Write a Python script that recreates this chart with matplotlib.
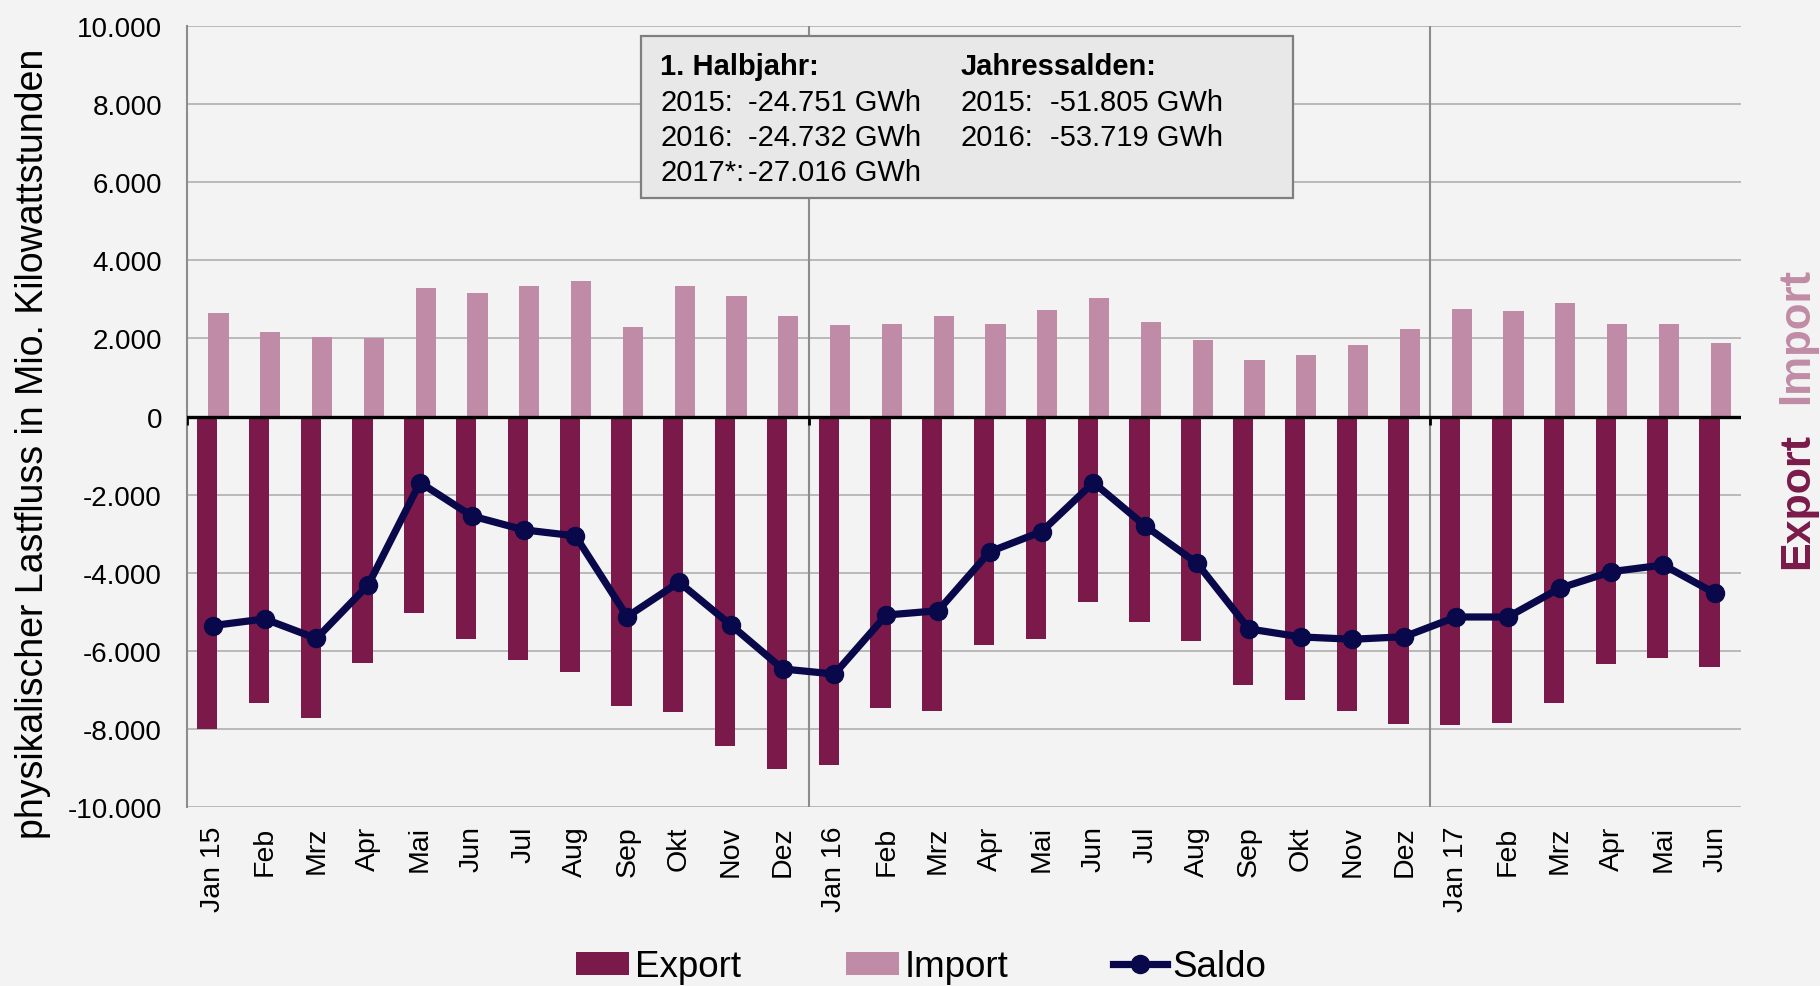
import matplotlib
matplotlib.use("Agg")
import matplotlib.pyplot as plt
from matplotlib.patches import Patch, Rectangle
from matplotlib.lines import Line2D
import numpy as np

plt.rcParams['font.family'] = ['Liberation Sans', 'DejaVu Sans']

months = ["Jan 15", "Feb", "Mrz", "Apr", "Mai", "Jun", "Jul", "Aug", "Sep", "Okt", "Nov", "Dez",
          "Jan 16", "Feb", "Mrz", "Apr", "Mai", "Jun", "Jul", "Aug", "Sep", "Okt", "Nov", "Dez",
          "Jan 17", "Feb", "Mrz", "Apr", "Mai", "Jun"]

export_vals = [-8000, -7340, -7720, -6320, -5020, -5690, -6240, -6530, -7420, -7570, -8420, -9010,
               -8920, -7450, -7530, -5840, -5690, -4740, -5250, -5740, -6880, -7250, -7530, -7870,
               -7900, -7840, -7320, -6340, -6170, -6410]

import_vals = [2660, 2165, 2040, 2020, 3290, 3155, 3340, 3470, 2295, 3340, 3095, 2575,
               2336, 2370, 2575, 2360, 2730, 3025, 2430, 1970, 1450, 1585, 1825, 2250,
               2745, 2700, 2905, 2355, 2360, 1875]

saldo_vals = [-5350, -5180, -5680, -4310, -1690, -2545, -2900, -3055, -5120, -4240, -5335, -6460,
              -6590, -5080, -4970, -3460, -2945, -1690, -2800, -3755, -5435, -5640, -5700, -5635,
              -5130, -5130, -4395, -3970, -3800, -4525]

year_breaks = [11.5, 23.5]
yticks = [-10000, -8000, -6000, -4000, -2000, 0, 2000, 4000, 6000, 8000, 10000]
ytick_labels = ["-10.000", "-8.000", "-6.000", "-4.000", "-2.000", "0",
                "2.000", "4.000", "6.000", "8.000", "10.000"]

box_title_left = "1. Halbjahr:"
box_rows_left = [("2015:", "-24.751 GWh"), ("2016:", "-24.732 GWh"), ("2017*:", "-27.016 GWh")]
box_title_right = "Jahressalden:"
box_rows_right = [("2015:", "-51.805 GWh"), ("2016:", "-53.719 GWh")]

EXPORT_C = "#7B1A4A"
IMPORT_C = "#C08BA6"
SALDO_C = "#08084A"
BG = "#F3F3F3"

W, H = 1820, 987
fig = plt.figure(figsize=(W / 100, H / 100), dpi=100, facecolor=BG)
ax = fig.add_axes([186.9 / W, (H - 808.3) / H, (1741 - 186.9) / W, (808.3 - 26.7) / H])
ax.set_facecolor(BG)

x = np.arange(len(months))
bw = 0.39
off = 0.11

for yv in yticks:
    ax.axhline(yv, color="#B4B4B4", lw=1.3, zorder=0)
for xb in year_breaks:
    ax.axvline(xb, color="#8C8C8C", lw=1.5, zorder=0)

ax.bar(x - off, export_vals, width=bw, color=EXPORT_C, zorder=2)
ax.bar(x + off, import_vals, width=bw, color=IMPORT_C, zorder=2)
ax.axhline(0, color="black", lw=2.4, zorder=3)
# small tick marks at year boundaries under zero line
for xb in [-0.5] + year_breaks:
    ax.plot([xb, xb], [0, -210], color="black", lw=2.0, zorder=3, solid_capstyle="butt")

ax.plot(x, saldo_vals, color=SALDO_C, lw=5.2, marker="o", markersize=13, zorder=4)

ax.set_xlim(-0.5, len(months) - 0.5)
ax.set_ylim(-10000, 10000)
ax.set_yticks(yticks, ytick_labels)
ax.set_xticks(x, months, rotation=90)
ax.tick_params(axis="y", length=0, pad=18, labelsize=20)
ax.tick_params(axis="x", length=0, pad=13, labelsize=20.5)
for lbl in ax.get_xticklabels():
    lbl.set_va("top")
    lbl.set_ha("center")

for s in ["top", "right", "bottom"]:
    ax.spines[s].set_visible(False)
ax.spines["left"].set_color("#8C8C8C")
ax.spines["left"].set_linewidth(1.5)

fig.text(33 / W, 1 - 444 / H, "physikalischer Lastfluss in Mio. Kilowattstunden",
         rotation=90, ha="center", va="center", fontsize=27)

fig.text(1797 / W, 1 - 336 / H, "Import", rotation=90, ha="center", va="center",
         fontsize=31.5, fontweight="bold", color=IMPORT_C)
fig.text(1797 / W, 1 - 501 / H, "Export", rotation=90, ha="center", va="center",
         fontsize=31, fontweight="bold", color=EXPORT_C)

# info box
bx0, by0, bx1, by1 = 641, 37, 1293, 199
fig.patches.append(Rectangle((bx0 / W, 1 - by1 / H), (bx1 - bx0) / W, (by1 - by0) / H,
                             transform=fig.transFigure, facecolor="#E8E8E8",
                             edgecolor="#7F7F7F", lw=1.6, zorder=5))
fs_box = 21
fig.text(660 / W, 1 - 75 / H, box_title_left, fontsize=fs_box, fontweight="bold",
         va="baseline", ha="left", zorder=6)
fig.text(961 / W, 1 - 75 / H, box_title_right, fontsize=fs_box, fontweight="bold",
         va="baseline", ha="left", zorder=6)
row_y = [111, 146, 181]
for (lab, val), yy in zip(box_rows_left, row_y):
    fig.text(660 / W, 1 - yy / H, lab, fontsize=fs_box, va="baseline", ha="left", zorder=6)
    fig.text(748 / W, 1 - yy / H, val, fontsize=fs_box, va="baseline", ha="left", zorder=6)
for (lab, val), yy in zip(box_rows_right, row_y):
    fig.text(961 / W, 1 - yy / H, lab, fontsize=fs_box, va="baseline", ha="left", zorder=6)
    fig.text(1050 / W, 1 - yy / H, val, fontsize=fs_box, va="baseline", ha="left", zorder=6)

handles = [Patch(facecolor=EXPORT_C, label="Export"),
           Patch(facecolor=IMPORT_C, label="Import"),
           Line2D([0], [0], color=SALDO_C, lw=5.2, marker="o", markersize=13, label="Saldo")]
fig.legend(handles=handles, loc="center", bbox_to_anchor=(921 / W, 1 - 968 / H), ncol=3,
           frameon=False, fontsize=26.5, handlelength=1.45, handleheight=0.55,
           handletextpad=0.15, columnspacing=2.85, borderpad=0)

fig.savefig("out.png", dpi=100, facecolor=BG)
